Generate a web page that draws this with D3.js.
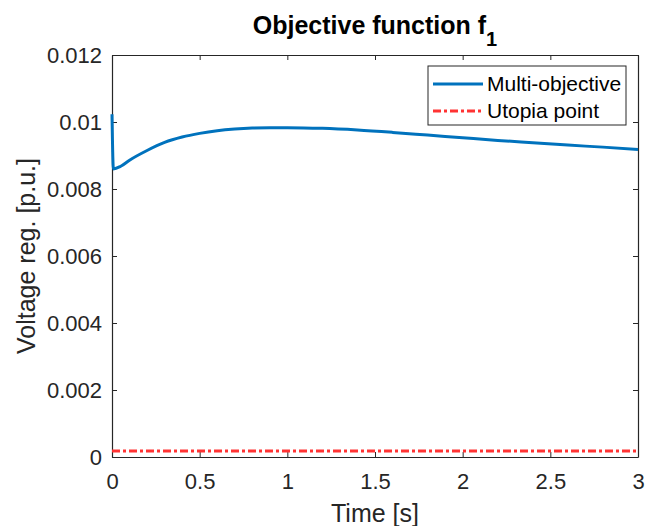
<!DOCTYPE html>
<html>
<head>
<meta charset="utf-8">
<script src="https://cdn.jsdelivr.net/npm/d3@7"></script>
<style>
  body { margin: 0; background: #fff; }
  svg { display: block; font-family: "Liberation Sans", Arial, sans-serif; }
</style>
</head>
<body>
<script>
const width = 657;
const height = 526;
const margin = { top: 55, right: 19, bottom: 69, left: 112 };

// time samples [s] and the multi-objective curve
const time = [0, 0.008, 0.05, 0.1, 0.2, 0.3, 0.4, 0.5, 0.6, 0.7, 0.8, 0.9, 1.0, 1.2, 1.4, 1.6, 1.8, 2.0, 2.2, 2.4, 2.6, 2.8, 3.0];
const multiObjective = [0.01023, 0.00860, 0.00868, 0.00886, 0.00915, 0.00939, 0.00955, 0.00966, 0.00974, 0.00979, 0.00982, 0.00983, 0.00983, 0.00981, 0.00976, 0.00969, 0.00961, 0.00953, 0.00945, 0.00938, 0.00931, 0.00925, 0.00918];
const utopiaTime = [0, 3];
const utopiaValue = [0.00018, 0.00018];

const xTicks = [0, 0.5, 1, 1.5, 2, 2.5, 3];
const yTicks = [0, 0.002, 0.004, 0.006, 0.008, 0.01, 0.012];

const svg = d3.select('body').append('svg')
  .attr('width', width)
  .attr('height', height);

const x = d3.scaleLinear()
  .domain([0, 3])
  .range([margin.left, width - margin.right]);

const y = d3.scaleLinear()
  .domain([0, 0.012])
  .range([height - margin.bottom, margin.top]);

const axisColor = '#262626';

// axes box with inward ticks
const xAxisG = svg.append('g')
  .attr('transform', `translate(0,${height - margin.bottom})`)
  .call(d3.axisBottom(x).tickValues(xTicks).tickSizeInner(-5).tickSizeOuter(0).tickPadding(16).tickFormat(d => d));

const xAxisTop = svg.append('g')
  .attr('transform', `translate(0,${margin.top})`)
  .call(d3.axisTop(x).tickValues(xTicks).tickSizeInner(-5).tickSizeOuter(0).tickFormat(''));

const yAxisG = svg.append('g')
  .attr('transform', `translate(${margin.left},0)`)
  .call(d3.axisLeft(y).tickValues(yTicks).tickSizeInner(-5).tickSizeOuter(0).tickPadding(10).tickFormat(d => d));

const yAxisRight = svg.append('g')
  .attr('transform', `translate(${width - margin.right},0)`)
  .call(d3.axisRight(y).tickValues(yTicks).tickSizeInner(-5).tickSizeOuter(0).tickFormat(''));

for (let g of [xAxisG, xAxisTop, yAxisG, yAxisRight]) {
  g.select('.domain').attr('stroke', axisColor).attr('stroke-width', 1.2);
  g.selectAll('.tick line').attr('stroke', axisColor);
  g.selectAll('.tick text')
    .attr('fill', '#262626')
    .attr('font-size', 22)
    .attr('font-family', '"Liberation Sans", Arial, sans-serif');
}

// lines
const line = d3.line()
  .x(d => x(d[0]))
  .y(d => y(d[1]))
  .curve(d3.curveMonotoneX);

svg.append('path')
  .datum(utopiaTime.map((t, i) => [t, utopiaValue[i]]))
  .attr('fill', 'none')
  .attr('stroke', '#ff3333')
  .attr('stroke-width', 3)
  .attr('stroke-dasharray', '8,3,3,3')
  .attr('d', line);

svg.append('path')
  .datum(time.map((t, i) => [t, multiObjective[i]]))
  .attr('fill', 'none')
  .attr('stroke', '#0072bd')
  .attr('stroke-width', 3)
  .attr('stroke-linejoin', 'round')
  .attr('d', line);

// title
const title = svg.append('text')
  .attr('x', (margin.left + width - margin.right) / 2)
  .attr('y', 34)
  .attr('text-anchor', 'middle')
  .attr('font-size', 25)
  .attr('font-weight', 'bold')
  .attr('fill', '#000');
title.append('tspan').text('Objective function f');
title.append('tspan').attr('dy', 12).attr('font-size', 20).text('1');

// axis labels
svg.append('text')
  .attr('x', (margin.left + width - margin.right) / 2)
  .attr('y', 522)
  .attr('text-anchor', 'middle')
  .attr('font-size', 25)
  .attr('fill', '#262626')
  .text('Time [s]');

svg.append('text')
  .attr('transform', `translate(35,${(margin.top + height - margin.bottom) / 2}) rotate(-90)`)
  .attr('text-anchor', 'middle')
  .attr('font-size', 25)
  .attr('fill', '#262626')
  .text('Voltage reg. [p.u.]');

// legend
const legend = svg.append('g');
legend.append('rect')
  .attr('x', 428)
  .attr('y', 66)
  .attr('width', 198)
  .attr('height', 59)
  .attr('fill', '#fff')
  .attr('stroke', axisColor)
  .attr('stroke-width', 1);

const legendItems = [
  { name: 'Multi-objective', color: '#0072bd', dash: null, width: 3 },
  { name: 'Utopia point', color: '#ff3333', dash: '8,3,3,3', width: 3 }
];

legendItems.forEach((d, i) => {
  const ly = 84 + i * 27;
  legend.append('line')
    .attr('x1', 433).attr('x2', 483)
    .attr('y1', ly).attr('y2', ly)
    .attr('stroke', d.color)
    .attr('stroke-width', d.width)
    .attr('stroke-dasharray', d.dash);
  legend.append('text')
    .attr('x', 487)
    .attr('y', ly + 7)
    .attr('font-size', 21)
    .attr('fill', '#000')
    .text(d.name);
});
</script>
</body>
</html>
